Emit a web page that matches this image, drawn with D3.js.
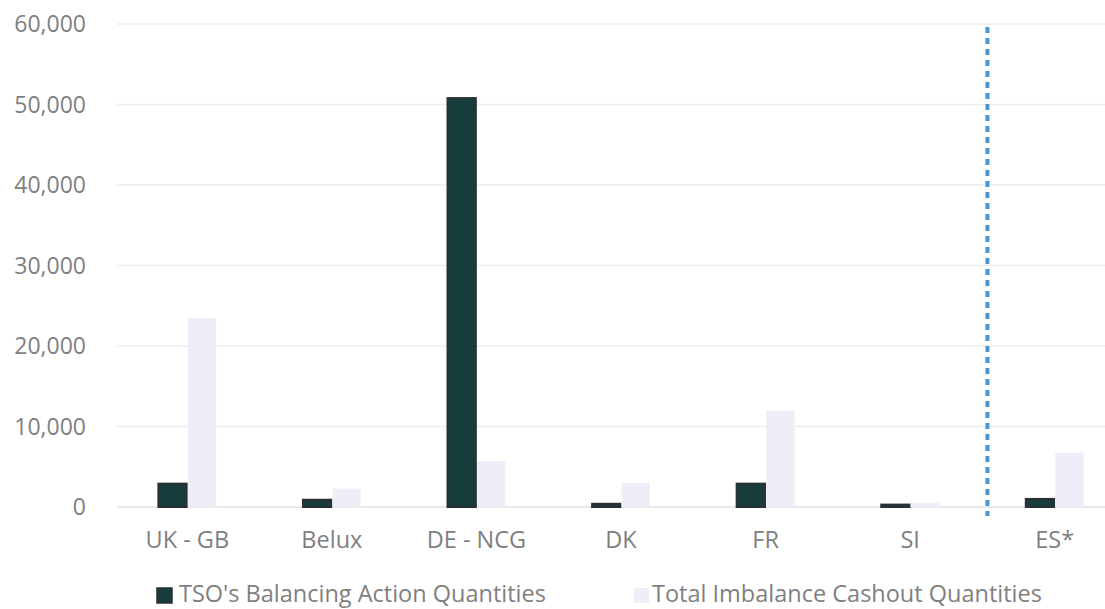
<!DOCTYPE html>
<html>
<head>
<meta charset="utf-8">
<script src="https://cdn.jsdelivr.net/npm/d3@7"></script>
<style>
  html, body { margin: 0; padding: 0; background: #ffffff; }
  svg { display: block; }
  text { font-family: "Open Sans", "Noto Sans", sans-serif; fill: #7f7f7f; }
</style>
</head>
<body>
<svg id="chart" width="1105" height="609"></svg>
<script>
// Balancing quantities per market area
const categories = ["UK - GB", "Belux", "DE - NCG", "DK", "FR", "SI", "ES*"];
const seriesNames = ["TSO's Balancing Action Quantities", "Total Imbalance Cashout Quantities"];
const balancingAction = [2900, 900, 50800, 400, 2900, 300, 1000];
const imbalanceCashout = [23500, 2300, 5700, 3000, 12000, 500, 6750];
const yTicks = [0, 10000, 20000, 30000, 40000, 50000, 60000];
const separatorBefore = "ES*";

const svg = d3.select("#chart");
const W = 1105, H = 609;

const x = d3.scaleBand()
  .domain(categories)
  .range([115, 1127])
  .paddingInner(0.6)
  .paddingOuter(0.3);

const xs = d3.scaleBand()
  .domain(seriesNames)
  .range([0, x.bandwidth()])
  .paddingInner(0.04);

const y = d3.scaleLinear().domain([0, 60000]).range([507, 24]);

const fmt = d3.format(",");

// Gridlines
svg.append("g")
  .selectAll("line")
  .data(yTicks)
  .join("line")
  .attr("x1", 117)
  .attr("x2", W)
  .attr("y1", d => y(d))
  .attr("y2", d => y(d))
  .attr("stroke", d => d === 0 ? "#e2e2e2" : "#eeeeee")
  .attr("stroke-width", 1.5);

// Y axis labels
svg.append("g")
  .selectAll("text")
  .data(yTicks)
  .join("text")
  .attr("x", 86)
  .attr("y", d => y(d))
  .attr("dy", "0.36em")
  .attr("text-anchor", "end")
  .style("font-size", "23px")
  .text(d => fmt(d));

// Bars
const rows = categories.map((c, i) => ({
  cat: c,
  values: [
    { s: seriesNames[0], v: balancingAction[i] },
    { s: seriesNames[1], v: imbalanceCashout[i] }
  ]
}));

const fills = { [seriesNames[0]]: "#173c3c", [seriesNames[1]]: "#eeeef8" };
const strokes = { [seriesNames[0]]: "#2c2f33", [seriesNames[1]]: "none" };

const groups = svg.append("g")
  .selectAll("g")
  .data(rows)
  .join("g")
  .attr("transform", d => `translate(${x(d.cat)},0)`);

groups.selectAll("rect")
  .data(d => d.values)
  .join("rect")
  .attr("x", d => xs(d.s))
  .attr("width", xs.bandwidth())
  .attr("y", d => y(d.v))
  .attr("height", d => y(0) - y(d.v))
  .attr("fill", d => fills[d.s])
  .attr("stroke", d => strokes[d.s])
  .attr("stroke-width", 2);

// Category labels
svg.append("g")
  .selectAll("text")
  .data(categories)
  .join("text")
  .attr("x", d => x(d) + x.bandwidth() / 2)
  .attr("y", 548)
  .attr("text-anchor", "middle")
  .style("font-size", "23.5px")
  .text(d => d);

// Dotted separator ahead of the last market
const sepX = x(separatorBefore) - x.step() * x.paddingInner() / 2 + 5;
svg.append("line")
  .attr("x1", sepX).attr("x2", sepX)
  .attr("y1", y(60000) + 3)
  .attr("y2", y(0) + 9)
  .attr("stroke", "#4897d3")
  .attr("stroke-width", 4)
  .attr("stroke-dasharray", "6,5");

// Legend
const legend = [
  { name: seriesNames[0], sx: 157, tx: 179 },
  { name: seriesNames[1], sx: 634, tx: 652 }
];
const lg = svg.append("g").selectAll("g").data(legend).join("g");
lg.append("rect")
  .attr("x", d => d.sx)
  .attr("y", 588)
  .attr("width", 15)
  .attr("height", 15)
  .attr("fill", d => fills[d.name])
  .attr("stroke", d => strokes[d.name])
  .attr("stroke-width", 1.5);
lg.append("text")
  .attr("x", d => d.tx)
  .attr("y", 602)
  .style("font-size", "23.5px")
  .text(d => d.name);
</script>
</body>
</html>
